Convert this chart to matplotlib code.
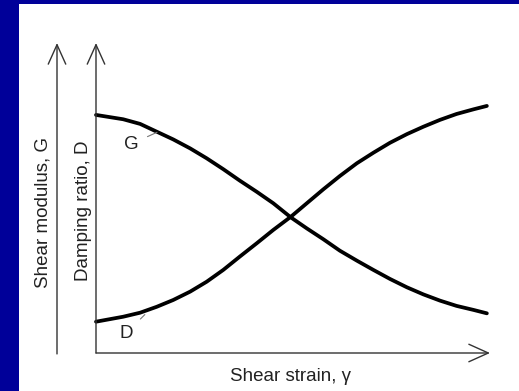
import matplotlib
matplotlib.use('Agg')
import matplotlib.pyplot as plt

# normalised shear strain (0 = origin, 1 = arrow tip)
strain = [0.0, 0.069, 0.112, 0.154, 0.196, 0.239, 0.281, 0.323, 0.365, 0.408, 0.450, 0.495,
          0.535, 0.577, 0.619, 0.662, 0.704, 0.746, 0.789, 0.831, 0.873, 0.915, 0.958, 0.992]
# shear modulus G (decreasing), normalised height
G = [0.768, 0.754, 0.739, 0.714, 0.689, 0.660, 0.628, 0.593, 0.556, 0.520, 0.483, 0.437,
     0.402, 0.367, 0.330, 0.298, 0.268, 0.239, 0.212, 0.189, 0.169, 0.152, 0.139, 0.128]
# damping ratio D (increasing), normalised height
D = [0.101, 0.117, 0.130, 0.149, 0.171, 0.198, 0.230, 0.268, 0.311, 0.354, 0.397, 0.440,
     0.483, 0.528, 0.571, 0.612, 0.646, 0.678, 0.706, 0.730, 0.752, 0.771, 0.786, 0.797]

W, H = 519, 391
fig = plt.figure(figsize=(W / 100, H / 100), dpi=100, facecolor='#000099')
plt.rcParams['font.family'] = ['Liberation Sans', 'DejaVu Sans']

# white slide panel
panel = fig.add_axes([19 / W, 0, 1 - 19 / W, 1 - 4 / H])
panel.set_facecolor('white')
panel.set_xticks([])
panel.set_yticks([])
for s in panel.spines.values():
    s.set_visible(False)

# plot area: origin at (96, 353) px, x tip 490 px, y tip 43 px
x0, x1, y0, y1 = 96, 490, 43, 353
ax = fig.add_axes([x0 / W, (H - y1) / H, (x1 - x0) / W, (y1 - y0) / H])
ax.set_xlim(0, 1)
ax.set_ylim(0, 1)
ax.axis('off')

axis_col = '#333333'
arrow = dict(arrowstyle='->,head_length=14,head_width=6.3', color=axis_col,
             lw=1.0, mutation_scale=1, shrinkA=0, shrinkB=0)
ax.annotate('', xy=(1, 0), xytext=(0, 0), arrowprops=arrow, annotation_clip=False)
ax.annotate('', xy=(0, 1), xytext=(0, 0), arrowprops=arrow, annotation_clip=False)
gx = (57 - x0) / (x1 - x0)
ax.annotate('', xy=(gx, 1), xytext=(gx, -0.003), arrowprops=arrow, annotation_clip=False)

ax.plot(strain, G, color='black', lw=2.7, solid_capstyle='round', clip_on=False)
ax.plot(strain, D, color='black', lw=2.7, solid_capstyle='round', clip_on=False)

txt_col = '#222222'
fs = 13.5
ax.annotate('G', xy=(0.155, 0.712), xytext=(0.089, 0.674), ha='center', va='center',
            fontsize=fs, color=txt_col,
            arrowprops=dict(arrowstyle='-', color='#777777', lw=0.8, shrinkA=5, shrinkB=0))
ax.annotate('D', xy=(0.124, 0.124), xytext=(0.076, 0.063), ha='center', va='center',
            fontsize=fs, color=txt_col,
            arrowprops=dict(arrowstyle='-', color='#777777', lw=0.8, shrinkA=5, shrinkB=0))

ax.text(0.493, -0.077, 'Shear strain, \u03b3', ha='center', va='center',
        fontsize=fs, color=txt_col, transform=ax.transAxes)
ax.text((43 - x0) / (x1 - x0), 0.452, 'Shear modulus, G', rotation=90,
        ha='center', va='center', fontsize=fs, color=txt_col, transform=ax.transAxes)
ax.text((83 - x0) / (x1 - x0), 0.458, 'Damping ratio, D', rotation=90,
        ha='center', va='center', fontsize=fs, color=txt_col, transform=ax.transAxes)

fig.savefig('out.png', dpi=100, facecolor=fig.get_facecolor())
